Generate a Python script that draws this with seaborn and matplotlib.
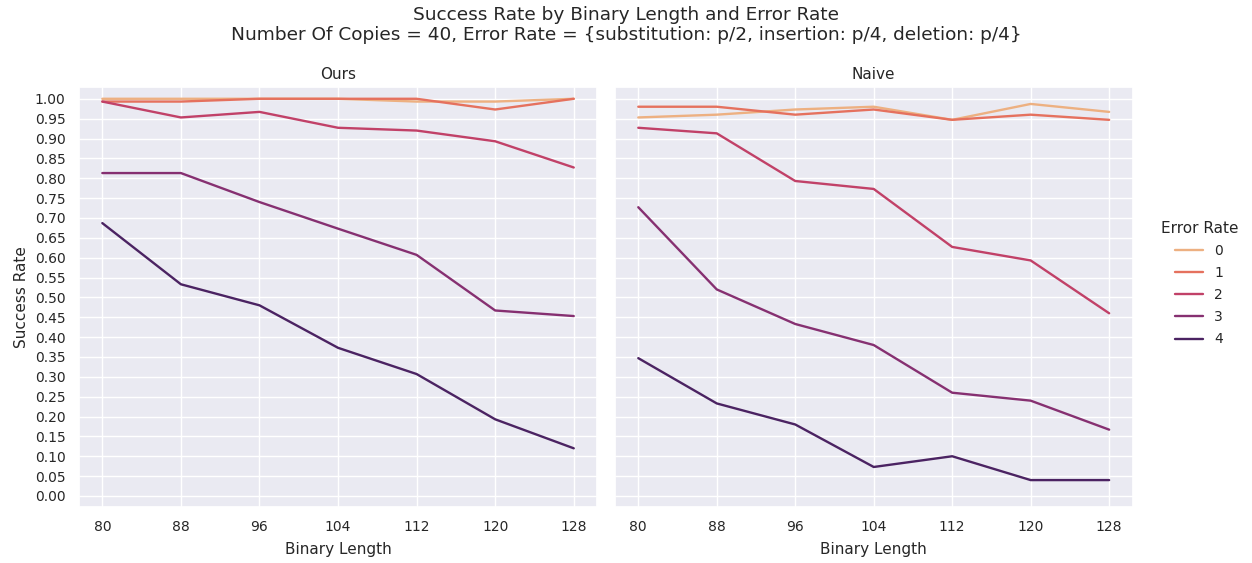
import numpy as np
import pandas as pd
import matplotlib
matplotlib.use("Agg")
import matplotlib.pyplot as plt
import seaborn as sns

binary_lengths = [80, 88, 96, 104, 112, 120, 128]
error_rates = [0, 1, 2, 3, 4]
methods = ["Ours", "Naive"]

# success rate per error rate, one list per binary length sweep
ours_rate_0 = [1.000, 1.000, 1.000, 1.000, 0.993, 0.993, 1.000]
ours_rate_1 = [0.993, 0.993, 1.000, 1.000, 1.000, 0.973, 1.000]
ours_rate_2 = [0.993, 0.953, 0.967, 0.927, 0.920, 0.893, 0.827]
ours_rate_3 = [0.813, 0.813, 0.740, 0.673, 0.607, 0.467, 0.453]
ours_rate_4 = [0.687, 0.533, 0.480, 0.373, 0.307, 0.193, 0.120]

naive_rate_0 = [0.953, 0.960, 0.973, 0.980, 0.947, 0.987, 0.967]
naive_rate_1 = [0.980, 0.980, 0.960, 0.973, 0.947, 0.960, 0.947]
naive_rate_2 = [0.927, 0.913, 0.793, 0.773, 0.627, 0.593, 0.460]
naive_rate_3 = [0.727, 0.520, 0.433, 0.380, 0.260, 0.240, 0.167]
naive_rate_4 = [0.347, 0.233, 0.180, 0.073, 0.100, 0.040, 0.040]

series = {
    "Ours": [ours_rate_0, ours_rate_1, ours_rate_2, ours_rate_3, ours_rate_4],
    "Naive": [naive_rate_0, naive_rate_1, naive_rate_2, naive_rate_3, naive_rate_4],
}

rows = []
for method in methods:
    for err, values in zip(error_rates, series[method]):
        for length, rate in zip(binary_lengths, values):
            rows.append({"Method": method, "Error Rate": err,
                         "Binary Length": length, "Success Rate": rate})
df = pd.DataFrame(rows)

sns.set_theme(style="darkgrid")
plt.rcParams["font.family"] = ["DejaVu Sans"]

fig = plt.figure(figsize=(12.52, 5.63), dpi=100)
ax_left = fig.add_axes([0.0629, 0.1, 0.4142, 0.745])
ax_right = fig.add_axes([0.491, 0.1, 0.4137, 0.745], sharey=ax_left)

for ax, method in zip([ax_left, ax_right], methods):
    sns.lineplot(data=df[df["Method"] == method], x="Binary Length", y="Success Rate",
                 hue="Error Rate", palette="flare", legend="full", ax=ax,
                 linewidth=1.7)
    ax.set_title(method, fontsize=11)
    ax.set_xticks(binary_lengths)
    ax.set_yticks(np.arange(0, 1.0001, 0.05))
    ax.set_ylim(-0.027, 1.029)
    ax.tick_params(labelsize=10)
    ax.set_xlabel("Binary Length", fontsize=11, labelpad=6)

ax_left.yaxis.set_major_formatter(matplotlib.ticker.FormatStrFormatter("%.2f"))
ax_left.set_ylabel("Success Rate", fontsize=11)
ax_right.set_ylabel("")
plt.setp(ax_right.get_yticklabels(), visible=False)
ax_right.tick_params(axis="y", length=0)

handles, labels = ax_left.get_legend_handles_labels()
for ax in (ax_left, ax_right):
    ax.get_legend().remove()
fig.legend(handles, labels, title="Error Rate", loc="center left",
           bbox_to_anchor=(0.917, 0.496), frameon=False, fontsize=10,
           title_fontsize=11, labelspacing=0.58)

fig.suptitle("Success Rate by Binary Length and Error Rate\n"
             "Number Of Copies = 40, Error Rate = {substitution: p/2, insertion: p/4, deletion: p/4}",
             fontsize=13.3, y=0.99)

fig.savefig("out.png", dpi=100)
